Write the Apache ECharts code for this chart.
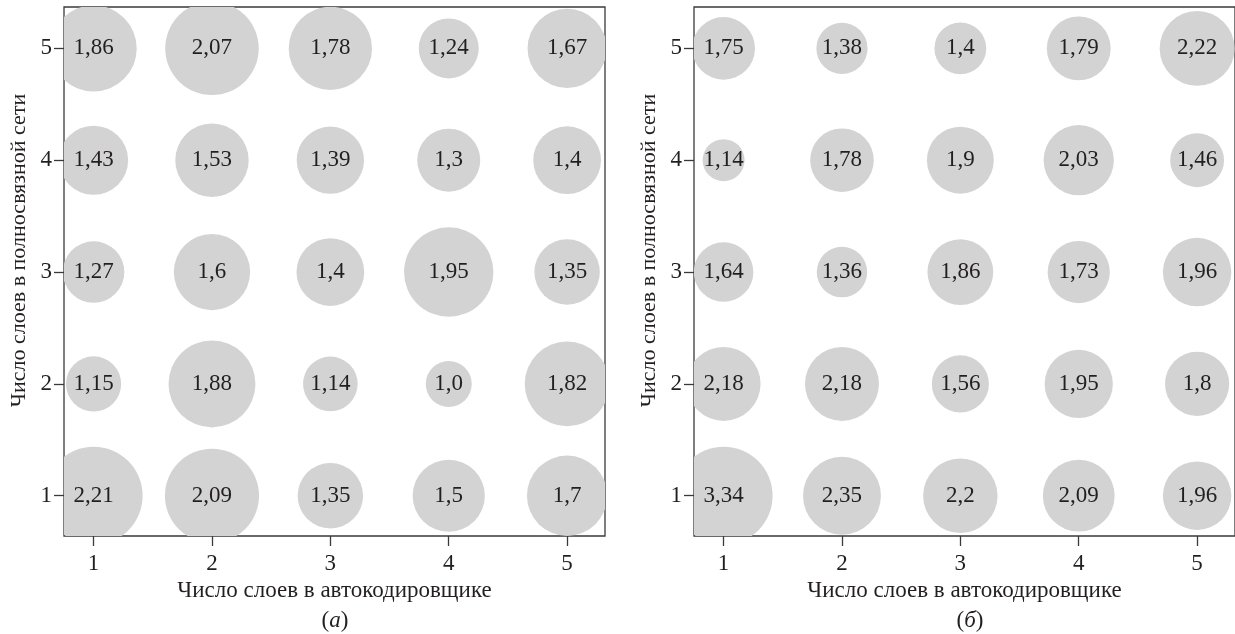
<!DOCTYPE html>
<html>
<head>
<meta charset="utf-8">
<script src="https://cdn.jsdelivr.net/npm/echarts@6/dist/echarts.min.js"></script>
<style>
  html, body { margin: 0; background: #fff; }
  #chart { width: 1235px; height: 634px; }
</style>
</head>
<body>
<div id="chart"></div>
<script>
// tick labels on both axes
const layerTicks = [1, 2, 3, 4, 5];
// rows go from top (5 layers in the dense net) down to 1
const rowLayers = [5, 4, 3, 2, 1];
const colLayers = [1, 2, 3, 4, 5];

// panel (а)
const valuesA = [
  [1.86, 2.07, 1.78, 1.24, 1.67],
  [1.43, 1.53, 1.39, 1.3, 1.4],
  [1.27, 1.6, 1.4, 1.95, 1.35],
  [1.15, 1.88, 1.14, 1.0, 1.82],
  [2.21, 2.09, 1.35, 1.5, 1.7]
];
// panel (б)
const valuesB = [
  [1.75, 1.38, 1.4, 1.79, 2.22],
  [1.14, 1.78, 1.9, 2.03, 1.46],
  [1.64, 1.36, 1.86, 1.73, 1.96],
  [2.18, 2.18, 1.56, 1.95, 1.8],
  [3.34, 2.35, 2.2, 2.09, 1.96]
];

const xName = 'Число слоев в автокодировщике';
const yName = 'Число слоев в полносвязной сети';

const FONT = '"Liberation Serif", "DejaVu Serif", serif';
const FS = 23;
const ink = '#231f20';
const lineColor = '#3a3a3a';

// матрица -> [x, y, value]
const toPoints = (values) => {
  let pts = [];
  values.forEach((row, i) => {
    row.forEach((v, j) => {
      pts.push([colLayers[j], rowLayers[i], v]);
    });
  });
  return pts;
};

const fmt = (v) => {
  let s = Number.isInteger(v) ? v.toFixed(1) : String(v);
  return s.replace('.', ',');
};

// площадь круга растёт линейно от dmin до dmax
const makeRender = (values, dmin, dmax) => {
  const flat = values.flat();
  const vmin = Math.min(...flat);
  const vmax = Math.max(...flat);
  return (params, api) => {
    const p = api.coord([api.value(0), api.value(1)]);
    const v = api.value(2);
    const d = Math.sqrt(dmin * dmin + (v - vmin) / (vmax - vmin) * (dmax * dmax - dmin * dmin));
    return {
      type: 'group',
      children: [
        {
          type: 'circle',
          shape: { cx: p[0], cy: p[1], r: d / 2 },
          style: { fill: '#d3d3d3' }
        },
        {
          type: 'text',
          x: p[0],
          y: p[1],
          style: {
            text: fmt(v),
            fill: ink,
            font: FS + 'px ' + FONT,
            align: 'center',
            verticalAlign: 'middle'
          }
        }
      ]
    };
  };
};

const makeX = (gridIndex) => ({
  type: 'value',
  gridIndex,
  min: 0.75,
  max: 5.32,
  name: xName,
  nameLocation: 'middle',
  nameGap: 42,
  nameTextStyle: { fontFamily: FONT, fontSize: FS, color: ink },
  axisLine: { show: false },
  axisTick: { show: true, length: 10, customValues: layerTicks, lineStyle: { color: lineColor, width: 1.3 } },
  axisLabel: { customValues: layerTicks, margin: 16, fontFamily: FONT, fontSize: FS, color: ink },
  splitLine: { show: false }
});

const makeY = (gridIndex) => ({
  type: 'value',
  gridIndex,
  min: 0.64,
  max: 5.37,
  name: yName,
  nameLocation: 'middle',
  nameGap: 34,
  // название сдвинуто немного вверх от центра оси
  nameTextStyle: { fontFamily: FONT, fontSize: 22, color: ink, padding: [0, 0, 0, 42] },
  axisLine: { show: false },
  axisTick: { show: true, length: 10, customValues: layerTicks, lineStyle: { color: lineColor, width: 1.3 } },
  axisLabel: { customValues: layerTicks, margin: 12, fontFamily: FONT, fontSize: FS, color: ink },
  splitLine: { show: false }
});

let chart = echarts.init(document.getElementById('chart'), null, { renderer: 'canvas' });

const captionStyle = {
  fontFamily: FONT, fontSize: FS, fontWeight: 'normal', color: ink,
  rich: { i: { fontFamily: FONT, fontSize: FS, fontStyle: 'italic', color: ink } }
};

chart.setOption({
  animation: false,
  backgroundColor: '#fff',
  grid: [
    { left: 64, top: 7, width: 541, height: 529, show: true, borderColor: lineColor, borderWidth: 1.3, backgroundColor: 'transparent' },
    { left: 694, top: 7, width: 542, height: 529, show: true, borderColor: lineColor, borderWidth: 1.3, backgroundColor: 'transparent' }
  ],
  xAxis: [makeX(0), makeX(1)],
  yAxis: [makeY(0), makeY(1)],
  title: [
    { text: '({i|а})', left: 330, top: 604, textAlign: 'center', textStyle: captionStyle },
    { text: '({i|б})', left: 965, top: 604, textAlign: 'center', textStyle: captionStyle }
  ],
  series: [
    {
      type: 'custom',
      xAxisIndex: 0,
      yAxisIndex: 0,
      clip: true,
      data: toPoints(valuesA),
      renderItem: makeRender(valuesA, 46, 98)
    },
    {
      type: 'custom',
      xAxisIndex: 1,
      yAxisIndex: 1,
      clip: true,
      data: toPoints(valuesB),
      renderItem: makeRender(valuesB, 42, 98)
    }
  ]
});
</script>
</body>
</html>
